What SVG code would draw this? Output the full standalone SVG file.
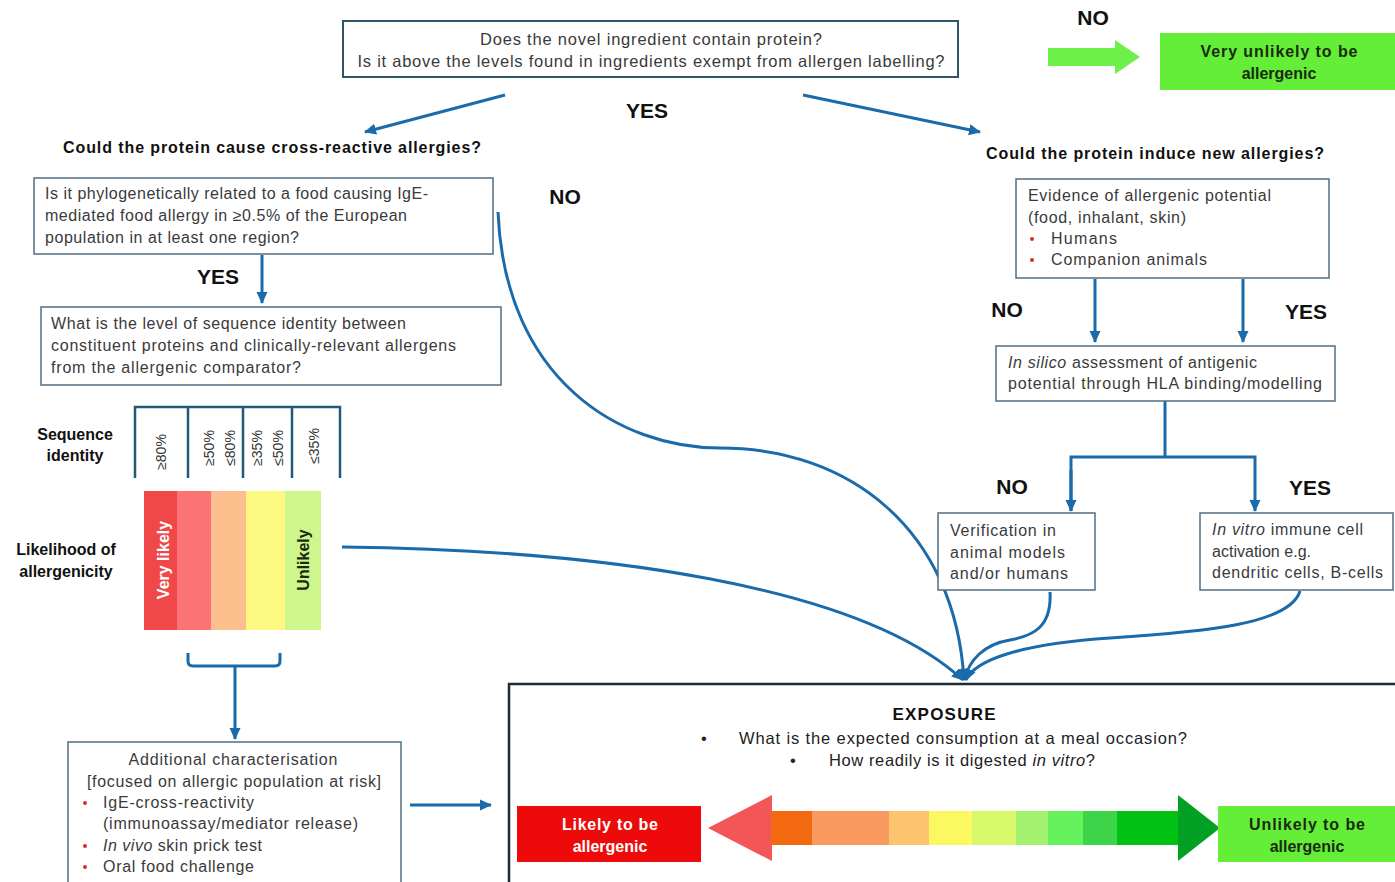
<svg xmlns="http://www.w3.org/2000/svg" width="1395" height="882" viewBox="0 0 1395 882">
<style>
.bg{fill:#fff}
.box{fill:#fff;stroke:#4f6f82;stroke-width:1.5}
.t{font-family:"Liberation Sans",Arial,sans-serif;font-size:16px;fill:#3a3a3a}
.lbl{font-family:"Liberation Sans",Arial,sans-serif;font-size:21px;font-weight:bold;fill:#111}
.hd{font-family:"Liberation Sans",Arial,sans-serif;font-size:16px;font-weight:bold;fill:#111}
.c{text-anchor:middle}
.conn{fill:none;stroke:#1b6aaa;stroke-width:3}
.bul{fill:#d03030}
.tick{fill:none;stroke:#215a73;stroke-width:2.5}
.rot{font-family:"Liberation Sans",Arial,sans-serif;font-size:14px;fill:#333;text-anchor:middle}
</style>
<defs>
<marker id="ah" markerUnits="userSpaceOnUse" markerWidth="14" markerHeight="14" refX="11" refY="7" orient="auto">
<path d="M0,1.5 L12,7 L0,12.5 Z" fill="#1b6aaa"/>
</marker>
</defs>
<rect class="bg" x="0" y="0" width="1395" height="882"/>

<g id="connectors">
<path class="conn" d="M505,95 L365,132" marker-end="url(#ah)"/>
<path class="conn" d="M803,95 L980,132" marker-end="url(#ah)"/>
<path class="conn" d="M262,255 V303" marker-end="url(#ah)"/>
<path class="conn" d="M498,212 C505,380 620,448 720,448 C850,448 955,530 964,680" marker-end="url(#ah)"/>
<path class="conn" d="M342,547 C600,550 860,585 963,680" marker-end="url(#ah)"/>
<path class="conn" d="M1050,592 C1052,628 1032,636 1010,640 C985,644 968,660 965,680" marker-end="url(#ah)"/>
<path class="conn" d="M1300,591 C1290,625 1200,632 1110,638 C1020,644 975,660 966,680" marker-end="url(#ah)"/>
<path class="conn" d="M1095,279 V342" marker-end="url(#ah)"/>
<path class="conn" d="M1243,279 V342" marker-end="url(#ah)"/>
<path class="conn" d="M1165,401 V457"/>
<path class="conn" d="M1071,511 V457 H1255 V511" marker-end="url(#ah)"/>
<path class="conn" d="M1071,470 V511" marker-end="url(#ah)"/>
<path class="conn" d="M188,653 V661 Q188,666 193,666 H275 Q280,666 280,661 V653"/>
<path class="conn" d="M235,666 V739" marker-end="url(#ah)"/>
<path class="conn" d="M410,805 H491" marker-end="url(#ah)"/>
</g>

<g id="labels">
<text class="lbl c" x="647" y="118">YES</text>
<text class="lbl c" x="1093" y="25">NO</text>
<text class="lbl c" x="565" y="204">NO</text>
<text class="lbl c" x="218" y="284">YES</text>
<text class="lbl c" x="1007" y="317">NO</text>
<text class="lbl c" x="1306" y="319">YES</text>
<text class="lbl c" x="1012" y="494">NO</text>
<text class="lbl c" x="1310" y="495">YES</text>
<text class="hd" x="63" y="153" textLength="418">Could the protein cause cross-reactive allergies?</text>
<text class="hd" x="986" y="159" textLength="338">Could the protein induce new allergies?</text>
</g>

<g id="q-protein">
<rect x="343" y="21" width="615" height="56" fill="#fff" stroke="#2e5668" stroke-width="2"/>
<text class="t c" x="651" y="45" style="font-size:16.5px" textLength="342">Does the novel ingredient contain protein?</text>
<text class="t c" x="651" y="67" style="font-size:16.5px" textLength="587">Is it above the levels found in ingredients exempt from allergen labelling?</text>
</g>

<g id="very-unlikely">
<path d="M1048,48 H1115 V40 L1140,57 L1115,74 V66 H1048 Z" fill="#6ef04a"/>
<rect x="1160" y="33" width="235" height="57" fill="#64ee38"/>
<text class="hd c" x="1279" y="57" style="fill:#1a2a10" textLength="157">Very unlikely to be</text>
<text class="hd c" x="1279" y="79" style="fill:#1a2a10">allergenic</text>
</g>

<g id="q-phylo">
<rect class="box" x="34" y="178" width="459" height="76"/>
<text class="t" x="45" y="199" textLength="383">Is it phylogenetically related to a food causing IgE-</text>
<text class="t" x="45" y="221" textLength="362">mediated food allergy in ≥0.5% of the European</text>
<text class="t" x="45" y="243" textLength="254">population in at least one region?</text>
</g>

<g id="q-sequence">
<rect class="box" x="41" y="307" width="460" height="78"/>
<text class="t" x="51" y="329" textLength="355">What is the level of sequence identity between</text>
<text class="t" x="51" y="351" textLength="405">constituent proteins and clinically-relevant allergens</text>
<text class="t" x="51" y="373" textLength="250">from the allergenic comparator?</text>
</g>

<g id="sequence-scale">
<text class="hd c" x="75" y="440">Sequence</text>
<text class="hd c" x="75" y="461">identity</text>
<path class="tick" d="M135,478 V407 H340 V478 M188,407 V478 M243,407 V478 M292,407 V478"/>
<text class="rot" transform="translate(166,452) rotate(-90)">≥80%</text>
<text class="rot" transform="translate(214,448) rotate(-90)">≥50%</text>
<text class="rot" transform="translate(235,448) rotate(-90)">≤80%</text>
<text class="rot" transform="translate(262,448) rotate(-90)">≥35%</text>
<text class="rot" transform="translate(283,448) rotate(-90)">≤50%</text>
<text class="rot" transform="translate(319,446) rotate(-90)">≤35%</text>
<text class="hd c" x="66" y="555">Likelihood of</text>
<text class="hd c" x="66" y="577">allergenicity</text>
<rect x="144" y="491" width="34" height="139" fill="#f04848"/>
<rect x="177" y="491" width="35" height="139" fill="#fb7373"/>
<rect x="211" y="491" width="36" height="139" fill="#fcc08e"/>
<rect x="246" y="491" width="40" height="139" fill="#fcf882"/>
<rect x="285" y="491" width="36" height="139" fill="#cdf68c"/>
<text class="hd c" transform="translate(169,560) rotate(-90)" style="fill:#fff">Very likely</text>
<text class="hd c" transform="translate(309,560) rotate(-90)" style="fill:#1a2a10">Unlikely</text>
</g>

<g id="additional">
<rect class="box" x="68" y="742" width="333" height="150"/>
<text class="t c" x="233" y="765" textLength="209">Additional characterisation</text>
<text class="t c" x="234" y="787" textLength="294">[focused on allergic population at risk]</text>
<circle class="bul" cx="85" cy="803" r="2"/>
<text class="t" x="103" y="808" textLength="151">IgE-cross-reactivity</text>
<text class="t" x="103" y="829" textLength="255">(immunoassay/mediator release)</text>
<circle class="bul" cx="85" cy="846" r="2"/>
<text class="t" x="103" y="851" textLength="159"><tspan font-style="italic">In vivo</tspan> skin prick test</text>
<circle class="bul" cx="85" cy="867" r="2"/>
<text class="t" x="103" y="872" textLength="151">Oral food challenge</text>
</g>

<g id="evidence">
<rect class="box" x="1016" y="179" width="313" height="99"/>
<text class="t" x="1028" y="201" textLength="243">Evidence of allergenic potential</text>
<text class="t" x="1028" y="223" textLength="158">(food, inhalant, skin)</text>
<circle class="bul" cx="1032" cy="239" r="2"/>
<text class="t" x="1051" y="244" textLength="66">Humans</text>
<circle class="bul" cx="1032" cy="260" r="2"/>
<text class="t" x="1051" y="265" textLength="156">Companion animals</text>
</g>

<g id="in-silico">
<rect class="box" x="996" y="346" width="339" height="55"/>
<text class="t" x="1008" y="368" textLength="249"><tspan font-style="italic">In silico</tspan> assessment of antigenic</text>
<text class="t" x="1008" y="389" textLength="314">potential through HLA binding/modelling</text>
</g>

<g id="verification">
<rect class="box" x="938" y="513" width="157" height="77"/>
<text class="t" x="950" y="536" textLength="106">Verification in</text>
<text class="t" x="950" y="558" textLength="115">animal models</text>
<text class="t" x="950" y="579" textLength="118">and/or humans</text>
</g>

<g id="in-vitro">
<rect class="box" x="1200" y="513" width="193" height="77"/>
<text class="t" x="1212" y="535" textLength="151"><tspan font-style="italic">In vitro</tspan> immune cell</text>
<text class="t" x="1212" y="557" textLength="99">activation e.g.</text>
<text class="t" x="1212" y="578" textLength="171">dendritic cells, B-cells</text>
</g>

<g id="exposure">
<rect x="509" y="684" width="900" height="220" fill="#fff" stroke="#1b2d38" stroke-width="2.5"/>
<text class="hd c" x="944" y="720" style="font-size:17px" textLength="103">EXPOSURE</text>
<text class="t" x="701" y="744" style="font-size:16.5px;fill:#222">•</text>
<text class="t" x="739" y="744" style="font-size:16.5px;fill:#222" textLength="448">What is the expected consumption at a meal occasion?</text>
<text class="t" x="790" y="766" style="font-size:16.5px;fill:#222">•</text>
<text class="t" x="829" y="766" style="font-size:16.5px;fill:#222" textLength="266">How readily is it digested <tspan font-style="italic">in vitro</tspan>?</text>
<rect x="517" y="806" width="184" height="56" fill="#ee0a0a"/>
<text class="hd c" x="610" y="830" style="fill:#fff" textLength="96">Likely to be</text>
<text class="hd c" x="610" y="852" style="fill:#fff">allergenic</text>
<polygon points="708,828 772,795 772,861" fill="#f25656"/>
<rect x="771" y="811" width="42" height="34" fill="#f46a10"/>
<rect x="812" y="811" width="78" height="34" fill="#f99a60"/>
<rect x="889" y="811" width="41" height="34" fill="#fcc46e"/>
<rect x="929" y="811" width="44" height="34" fill="#fcf862"/>
<rect x="972" y="811" width="45" height="34" fill="#d8f86c"/>
<rect x="1016" y="811" width="33" height="34" fill="#a4f270"/>
<rect x="1048" y="811" width="36" height="34" fill="#66f25c"/>
<rect x="1083" y="811" width="35" height="34" fill="#3ed44a"/>
<rect x="1117" y="811" width="62" height="34" fill="#00c212"/>
<polygon points="1178,795 1220,828 1178,861" fill="#02a024"/>
<rect x="1218" y="806" width="177" height="56" fill="#64ee38"/>
<text class="hd c" x="1307" y="830" style="fill:#1a2a10" textLength="116">Unlikely to be</text>
<text class="hd c" x="1307" y="852" style="fill:#1a2a10">allergenic</text>
</g>
</svg>
